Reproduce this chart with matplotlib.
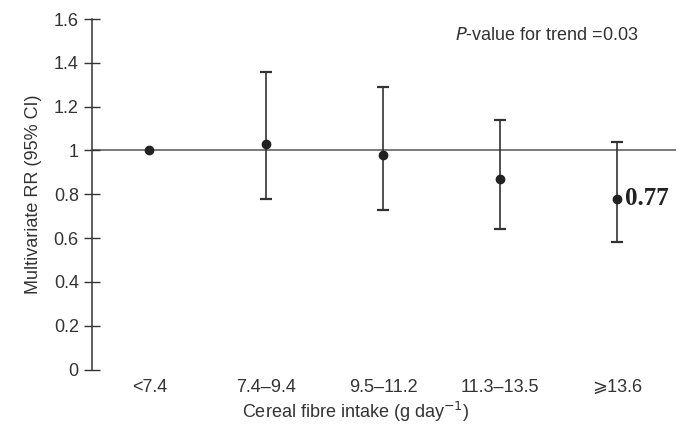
import matplotlib
matplotlib.use("Agg")
import matplotlib.pyplot as plt

# Cereal fibre intake categories and relative risks
categories = ["<7.4", "7.4\u20139.4", "9.5\u201311.2", "11.3\u201313.5", "\u2a7e13.6"]
rr = [1.0, 1.03, 0.98, 0.87, 0.78]
ci_low = [1.0, 0.78, 0.73, 0.64, 0.58]
ci_high = [1.0, 1.36, 1.29, 1.14, 1.04]
y_ticks = [0, 0.2, 0.4, 0.6, 0.8, 1.0, 1.2, 1.4, 1.6]
y_tick_labels = ["0", "0.2", "0.4", "0.6", "0.8", "1", "1.2", "1.4", "1.6"]

plt.rcParams["font.family"] = ["Liberation Sans", "DejaVu Sans"]
INK = "#333333"
FS = 13

fig = plt.figure(figsize=(6.84, 4.24), dpi=100)
ax = fig.add_axes([0.1345, 0.1285, 0.8535, 0.8265])

x = list(range(len(categories)))
err_lo = [r - lo for r, lo in zip(rr, ci_low)]
err_hi = [hi - r for r, hi in zip(rr, ci_high)]

ax.axhline(1.0, color="#555555", lw=1.1, zorder=1)
ax.errorbar(x[1:], rr[1:], yerr=[err_lo[1:], err_hi[1:]], fmt="none",
            ecolor=INK, elinewidth=1.2, capsize=4, capthick=1.6, zorder=2)
ax.plot(x, rr, "o", color="#222222", ms=6, zorder=3)

ax.text(x[-1] + 0.07, rr[-1], "0.77", family="Liberation Serif",
        fontweight="bold", fontsize=18, color="#222222", va="center", ha="left")

ax.text(0.779, 0.954, "$P$-value for trend =0.03", transform=ax.transAxes,
        fontsize=FS, color=INK, ha="center", va="center")

ax.set_xlim(-0.49, 4.5)
ax.set_ylim(0, 1.6)
ax.set_yticks(y_ticks)
ax.set_yticklabels(y_tick_labels)
ax.set_xticks(x)
ax.set_xticklabels(categories)

for side in ["top", "right", "bottom"]:
    ax.spines[side].set_visible(False)
ax.spines["left"].set_color(INK)
ax.spines["left"].set_linewidth(1.1)

ax.tick_params(axis="y", direction="inout", length=11, width=1.0, color=INK,
               labelsize=FS, labelcolor=INK, pad=4)
ax.tick_params(axis="x", length=0, labelsize=FS, labelcolor=INK, pad=7)

ax.set_ylabel("Multivariate RR (95% CI)", fontsize=FS, color=INK)
ax.yaxis.set_label_coords(-0.086, 0.5)
ax.set_xlabel("Cereal fibre intake (g day$^{-1}$)", fontsize=FS, color=INK)
ax.xaxis.set_label_coords((356 - 92) / 584, -0.088)

fig.savefig("out.png", dpi=100)
